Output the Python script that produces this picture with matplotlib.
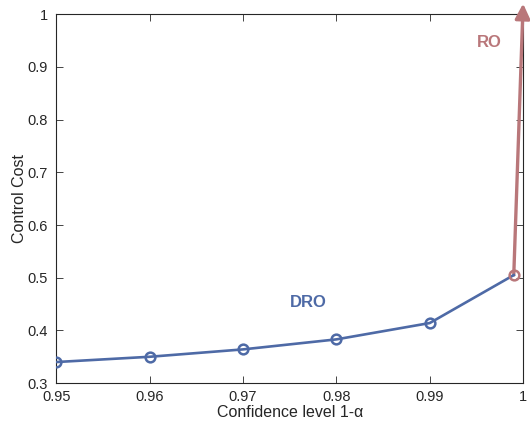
import matplotlib
matplotlib.use("Agg")
import matplotlib.pyplot as plt

plt.rcParams['font.family'] = ['Liberation Sans', 'DejaVu Sans']

conf = [0.95, 0.96, 0.97, 0.98, 0.99, 0.999]
dro_cost = [0.340, 0.350, 0.364, 0.383, 0.414, 0.505]
ro_start = (0.999, 0.505)
ro_end = (1.0, 1.02)
xticks = [0.95, 0.96, 0.97, 0.98, 0.99, 1.0]
xticklabels = ['0.95', '0.96', '0.97', '0.98', '0.99', '1']
yticks = [0.3, 0.4, 0.5, 0.6, 0.7, 0.8, 0.9, 1.0]
yticklabels = ['0.3', '0.4', '0.5', '0.6', '0.7', '0.8', '0.9', '1']

blue = '#4E6AA6'
red = '#B9777A'

fig = plt.figure(figsize=(5.3, 4.3), dpi=100)
ax = fig.add_axes([0.106, 0.109, 0.881, 0.858])

ax.annotate('', xy=ro_end, xytext=ro_start, annotation_clip=False,
            arrowprops=dict(arrowstyle='-|>,head_length=0.9,head_width=0.45',
                            color=red, lw=2.4, shrinkA=0, shrinkB=0))
ax.plot(conf, dro_cost, '-', color=blue, lw=1.9, zorder=3)
ax.plot(conf[:-1], dro_cost[:-1], 'o', mfc='none', mec=blue, mew=1.8, ms=7, zorder=4)
ax.plot([conf[-1]], [dro_cost[-1]], 'o', mfc='none', mec=red, mew=1.8, ms=7, zorder=5)

ax.text(0.977, 0.453, 'DRO', color=blue, fontsize=12, fontweight='bold', ha='center', va='center')
ax.text(0.9964, 0.947, 'RO', color=red, fontsize=12, fontweight='bold', ha='center', va='center')

ax.set_xlim(0.95, 1.0)
ax.set_ylim(0.3, 1.0)
ax.set_xticks(xticks)
ax.set_xticklabels(xticklabels)
ax.set_yticks(yticks)
ax.set_yticklabels(yticklabels)
ax.tick_params(direction='in', top=True, right=True, labelsize=10.5, length=5, width=0.6,
               colors='#262626')
ax.tick_params(axis='x', pad=5)
ax.tick_params(axis='y', pad=6)
for s in ax.spines.values():
    s.set_linewidth(0.8)
    s.set_color('#262626')
ax.set_xlabel('Confidence level 1-α', fontsize=11.5, color='#262626', labelpad=1)
ax.set_ylabel('Control Cost', fontsize=11.5, color='#262626', labelpad=0)

fig.savefig('out.png', dpi=100)
